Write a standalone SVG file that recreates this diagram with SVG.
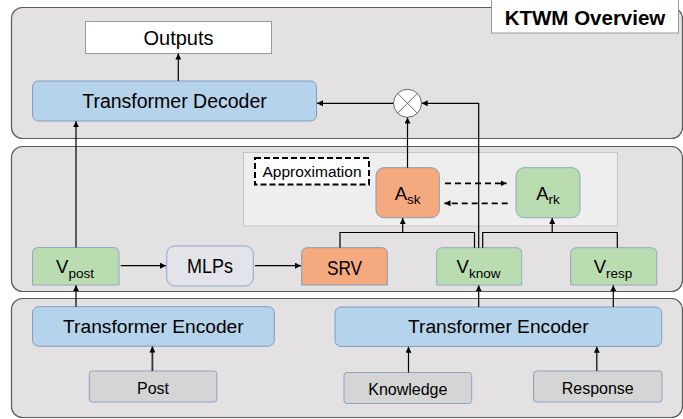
<svg xmlns="http://www.w3.org/2000/svg" width="683" height="419" viewBox="0 0 683 419">
  <defs>
    <marker id="arrow" markerUnits="userSpaceOnUse" markerWidth="7" markerHeight="6" refX="6" refY="3" orient="auto">
      <path d="M0,0 L6,3 L0,6 Z" fill="#000"/>
    </marker>
    <style>
      .panel { fill: #e3e1e2; stroke: #5c5c5c; stroke-width: 1.2; }
      .inner { fill: #efeeef; stroke: #c4c4c4; stroke-width: 1; }
      .blue { fill: #b5d3ea; stroke: #7f9dc4; stroke-width: 1; }
      .green { fill: #badcb1; stroke: #8fa8c2; stroke-width: 1; }
      .orange { fill: #f4a97f; stroke: #8a97b0; stroke-width: 1; }
      .mlp { fill: #e3e3ea; stroke: #8ba5cb; stroke-width: 1; }
      .gray { fill: #d5d5d5; stroke: #8ea2bf; stroke-width: 1; }
      .white { fill: #ffffff; stroke: #9a9a9a; stroke-width: 1; }
      .dashbox { fill: #ffffff; stroke: #000; stroke-width: 2; stroke-dasharray: 6 3; }
      text { font-family: "Liberation Sans", Arial, sans-serif; fill: #000; text-anchor: middle; }
      .t20 { font-size: 19.5px; }
      .t18 { font-size: 18.5px; }
      .t16 { font-size: 16px; }
      .sub { font-size: 13.5px; }
      .title { font-size: 20.5px; font-weight: bold; }
      .wire { fill: none; stroke: #000; stroke-width: 1.2; }
      .wire-arrow { fill: none; stroke: #000; stroke-width: 1.2; marker-end: url(#arrow); }
      .dash-arrow { fill: none; stroke: #000; stroke-width: 1.8; stroke-dasharray: 6 4; marker-end: url(#arrow); }
      .mul { fill: #fff; stroke: #6a6a6a; stroke-width: 1; }
    </style>
  </defs>

  <!-- background layers -->
  <g id="layers">
    <rect class="panel" x="11.5" y="7.5" width="671" height="131" rx="11"/>
    <rect class="panel" x="11.5" y="146.5" width="671" height="145" rx="11"/>
    <rect class="panel" x="11.5" y="298.5" width="671" height="119" rx="11"/>
    <rect class="inner" x="243.5" y="152.5" width="374" height="73.5"/>
  </g>

  <g id="title">
    <rect class="white" x="491.5" y="-1" width="187" height="34"/>
    <text class="title" x="585" y="24.5">KTWM Overview</text>
  </g>

  <g id="outputs">
    <rect class="white" x="85.5" y="21.5" width="186" height="32"/>
    <text class="t20" x="178.5" y="44.5" style="font-size:20px">Outputs</text>
  </g>

  <g id="decoder">
    <rect class="blue" x="32.5" y="81" width="284" height="40" rx="6"/>
    <text class="t20" x="174.5" y="108">Transformer Decoder</text>
  </g>

  <g id="multiply">
    <circle class="mul" cx="407.5" cy="103.3" r="14"/>
    <path d="M397.6,93.4 L417.4,113.2 M417.4,93.4 L397.6,113.2" stroke="#6a6a6a" stroke-width="1" fill="none"/>
  </g>

  <g id="approximation">
    <rect class="dashbox" x="255" y="158" width="114" height="26.5"/>
    <text x="312" y="176.5" style="font-size:15.5px">Approximation</text>
  </g>

  <g id="a-sk">
    <rect class="orange" x="376" y="167.7" width="63.3" height="50" rx="8"/>
    <text class="t18" x="407.7" y="200">A<tspan class="sub" dy="4">sk</tspan></text>
  </g>

  <g id="a-rk">
    <rect class="green" x="516" y="167.7" width="64" height="50" rx="8"/>
    <text class="t18" x="548" y="200">A<tspan class="sub" dy="4">rk</tspan></text>
  </g>

  <g id="v-post">
    <path class="green" d="M32.5,285 V253.5 Q32.5,247.5 38.5,247.5 H113 Q119,247.5 119,253.5 V285 Z"/>
    <text class="t18" x="75" y="273">V<tspan class="sub" dy="5">post</tspan></text>
  </g>

  <g id="mlps">
    <rect class="mlp" x="166.7" y="246" width="86.6" height="40" rx="8"/>
    <text x="210" y="273" style="font-size:20.5px" textLength="46" lengthAdjust="spacingAndGlyphs">MLPs</text>
  </g>

  <g id="srv">
    <path class="orange" d="M301.7,285 V253.7 Q301.7,247.7 307.7,247.7 H381.3 Q387.3,247.7 387.3,253.7 V285 Z"/>
    <text x="344.5" y="274.5" style="font-size:20.5px" textLength="35" lengthAdjust="spacingAndGlyphs">SRV</text>
  </g>

  <g id="v-know">
    <path class="green" d="M436.7,285 V253.7 Q436.7,247.7 442.7,247.7 H515.7 Q521.7,247.7 521.7,253.7 V285 Z"/>
    <text class="t18" x="478.5" y="273">V<tspan class="sub" dy="5">know</tspan></text>
  </g>

  <g id="v-resp">
    <path class="green" d="M570.7,285 V253.7 Q570.7,247.7 576.7,247.7 H650.7 Q656.7,247.7 656.7,253.7 V285 Z"/>
    <text class="t18" x="613" y="273">V<tspan class="sub" dy="5">resp</tspan></text>
  </g>

  <g id="encoder-post">
    <rect class="blue" x="32.5" y="306.7" width="241.8" height="39.5" rx="6"/>
    <text class="t20" x="153.4" y="333" style="font-size:19.2px">Transformer Encoder</text>
  </g>

  <g id="encoder-know-resp">
    <rect class="blue" x="335" y="307" width="326.7" height="39.5" rx="6"/>
    <text class="t20" x="498.3" y="333" style="font-size:19.2px">Transformer Encoder</text>
  </g>

  <g id="post">
    <rect class="gray" x="89.3" y="371" width="127.6" height="31" rx="3"/>
    <text class="t16" x="153" y="393.5">Post</text>
  </g>

  <g id="knowledge">
    <rect class="gray" x="344" y="372.5" width="127.7" height="31" rx="3"/>
    <text class="t16" x="407.8" y="395">Knowledge</text>
  </g>

  <g id="response">
    <rect class="gray" x="533.5" y="371" width="128.5" height="31" rx="3"/>
    <text class="t16" x="597.7" y="393.5">Response</text>
  </g>

  <g id="connectors">
    <!-- decoder to outputs -->
    <path class="wire-arrow" d="M178.3,81 V53.5"/>
    <!-- multiply to decoder -->
    <path class="wire-arrow" d="M393.5,103.3 H317"/>
    <!-- A_sk to multiply -->
    <path class="wire-arrow" d="M407.5,167.7 V117.5"/>
    <!-- knowledge vector to multiply -->
    <path class="wire-arrow" d="M478.7,247.7 V103.3 H421.7"/>
    <!-- V_post to decoder -->
    <path class="wire-arrow" d="M76,247.5 V121.3"/>
    <!-- V_post to MLPs, MLPs to SRV -->
    <path class="wire-arrow" d="M120.7,265.7 H166"/>
    <path class="wire-arrow" d="M255,265.7 H301"/>
    <!-- SRV + V_know to A_sk -->
    <path class="wire" d="M340,247.7 V232.5 H474.5 V247.7"/>
    <path class="wire-arrow" d="M402.7,232.5 V218"/>
    <!-- V_know + V_resp to A_rk -->
    <path class="wire" d="M482.7,247.7 V232.5 H617.3 V247.7"/>
    <path class="wire-arrow" d="M552.2,232.5 V218"/>
    <!-- approximation between A_sk and A_rk -->
    <path class="dash-arrow" d="M445,183.3 H506.5"/>
    <path class="dash-arrow" d="M507.7,203.3 H444.5"/>
    <!-- encoders to vectors -->
    <path class="wire-arrow" d="M76,306.7 V285.3"/>
    <path class="wire-arrow" d="M478.7,307 V285.3"/>
    <path class="wire-arrow" d="M613.3,307 V285.3"/>
    <!-- inputs to encoders -->
    <path class="wire-arrow" d="M152.4,371 V346.5" style="stroke-width:1.8;stroke:#333"/>
    <path class="wire-arrow" d="M408.5,372.5 V346.8"/>
    <path class="wire-arrow" d="M596.8,371 V346.8"/>
  </g>
</svg>
